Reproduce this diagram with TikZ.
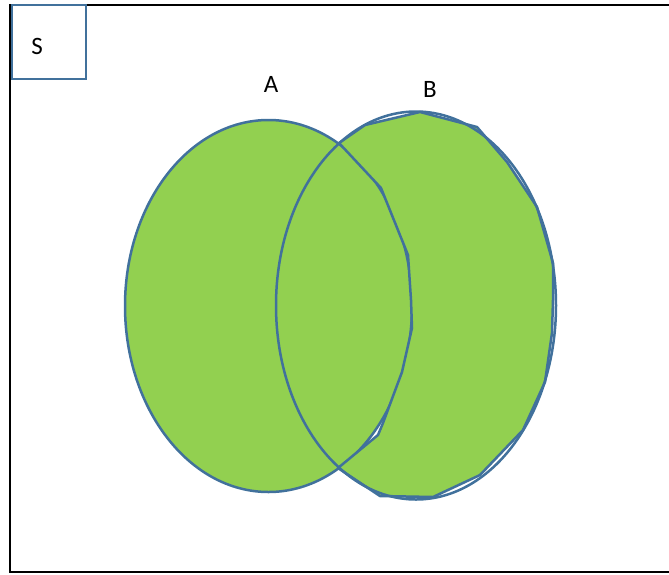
\documentclass[tikz,border=0pt]{standalone}
\usepackage{fontspec}
\setmainfont{Carlito}
\usetikzlibrary{shapes.geometric}
\definecolor{vgreen}{HTML}{92D050}
\definecolor{vblue}{HTML}{41719C}
\tikzset{
  setline/.style={draw=vblue, line width=2.5pt},
  lbl/.style={font=\fontsize{25}{29}\selectfont, inner sep=0pt},
}
\begin{document}
\begin{tikzpicture}[x=1pt,y=-1pt]
\useasboundingbox (0,0) rectangle (669,574);
% universe
\draw[line width=2.2pt, black] (676,5) -- (10,5) -- (10,572) -- (676,572);
% set A
\node[ellipse, setline, fill=vgreen, minimum width=287pt, minimum height=372pt, inner sep=0pt] (A) at (268.5,306) {};
% B minus A region (polygon)
\filldraw[setline, fill=vgreen, line join=round]
  (339,143) coordinate (p1) -- (381,188) -- (408,255) -- (411,300) -- (412,328)
  -- (402,372) -- (383,423) -- (378,435) -- (338,468)
  -- (380,496) -- (433,497) -- (480,475) -- (523,430) -- (545,382)
  -- (552,333) -- (553,300) -- (553,263) -- (537,207) -- (507,162)
  -- (477,127) -- (420,112) -- (365,125) -- cycle;
% set B
\node[ellipse, setline, minimum width=280pt, minimum height=388pt, inner sep=0pt] (B) at (416,305.5) {};
% sample space box
\node[draw=vblue, line width=2.5pt, minimum width=74pt, minimum height=74pt, inner sep=0pt] (Sbox) at (49,42) {};
\node[lbl] (S) at (37,46) {S};
\node[lbl] (la) at (271,84) {A};
\node[lbl] (lb) at (430,89) {B};
\end{tikzpicture}
\end{document}
